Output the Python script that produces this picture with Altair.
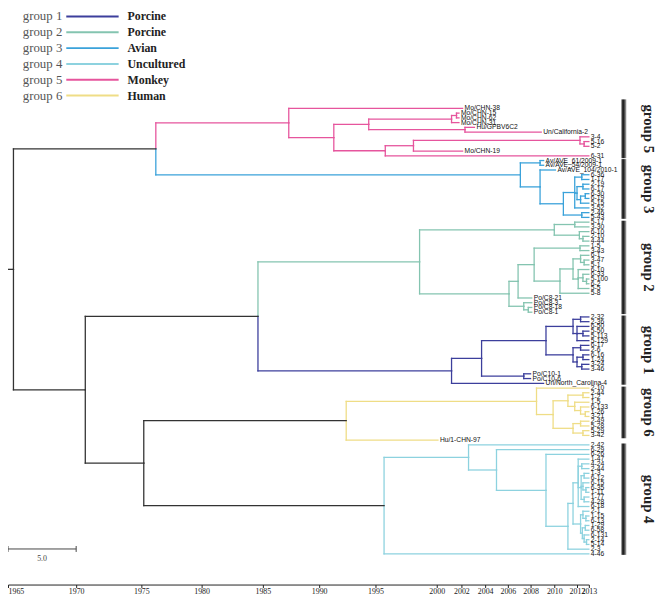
import altair as alt
import pandas as pd

# ---------------- data ----------------
axis_years = [1965, 1970, 1975, 1980, 1985, 1990, 1995, 2000, 2002, 2004, 2006, 2008, 2010, 2012, 2013]
axis_px = [0, 69, 135, 196, 258, 315, 372, 434, 459, 483, 506, 529, 553, 576, 588]  # non-uniform time axis of the figure

groups = ["group 1", "group 2", "group 3", "group 4", "group 5", "group 6"]
hosts = ["Porcine", "Porcine", "Avian", "Uncultured", "Monkey", "Human"]
group_colors = ["#3c3f9c", "#84c4b0", "#3aa2da", "#8dd2df", "#e6559d", "#efdd86"]
backbone_color = "#333333"

# bracket extents of the group bars (in leaf rows)
bar_start = [43.7, 23.7, 10.7, 70.7, -1.9, 58.7]
bar_end = [58.3, 43.4, 23.3, 94.2, 10.5, 69.6]

# subtrees: [node_year, [children]] or [leaf_name, tip_year]
g5 = [1987.3, [
    ["Mo/CHN-38", 2002.1],
    [1991.3, [
        [1994.4, [
            [2001.2, [
                [2001.6, [["Mo/CHN-15", 2001.8], ["Mo/CHN-62", 2001.8]]],
                ["Mo/CHN-31", 2001.8]]],
            [2002.3, [["Hu/GPBV6C2", 2003.1], ["Un/California-2", 2008.9]]]]],
        [1995.8, [
            [1998.1, [
                [2012.25, [["3-4", 2013], [2012.6, [["5-16", 2013], ["5-2", 2013]]]]],
                ["Mo/CHN-19", 2002.1]]],
            ["6-31", 2013]]]]]]]

g3 = [2007.1, [
    [2008.8, [["Av/AVE_61/2009-1", 2009.1], ["Av/AVE_54/2009-1", 2009.1]]],
    [2008.8, [
        ["Av/AVE_104/2010-1", 2010.1],
        [2010.8, [
            [2011.8, [
                [2012.4, [["6-36", 2013], ["1-17", 2013]]],
                [2012.0, [
                    [2012.5, [["2-19", 2013], ["6-17", 2013]]],
                    [2012.3, [[2012.7, [["6-30", 2013], ["6-19", 2013]]], ["5-15", 2013]]]]],
                ["3-52", 2013]]],
            [2012.4, [["2-46", 2013], ["5-43", 2013]]]]]]]]]

g2 = [1998.6, [
    [2010.0, [
        [2011.8, [["5-17", 2013], ["3-30", 2013]]],
        [2012.2, [["6-10", 2013], [2012.5, [["2-10", 2013], ["4-44", 2013]]]]]]],
    [2006.1, [
        [2006.9, [
            [2008.3, [
                [2012.25, [["1-5", 2013], ["3-43", 2013]]],
                [2010.5, [
                    [2011.65, [
                        [2012.3, [["6-1", 2013], [2012.6, [["3-47", 2013], ["5-1", 2013]]]]],
                        [2012.1, [["6-10", 2013],
                                  [2012.5, [["6-33", 2013], [2012.8, [["5-100", 2013], ["6-2", 2013]]]]],
                                  ["5-5", 2013]]]]],
                    ["5-8", 2013]]]]],
            ["Po/C8-21", 2008.1]]],
        [2007.4, [["Po/C8-3", 2008.1], [2007.8, [["Po/C8-18", 2008.1], ["Po/C8-1", 2008.1]]]]]]]]]

g1 = [2001.2, [
    [2003.7, [
        [2009.3, [
            [2011.65, [
                [2012.3, [["2-32", 2013], ["2-36", 2013]]],
                [2012.0, [["6-50", 2013], [2012.5, [["5-50", 2013], ["5-113", 2013]]], ["5-129", 2013]]]]],
            [2011.65, [
                [2012.3, [["6-17", 2013], ["2-6", 2013]]],
                [2012.0, [[2012.5, [["6-16", 2013], ["1-24", 2013]]],
                          [2012.4, [["3-24", 2013], ["3-46", 2013]]]]]]]]],
        [2007.4, [["Po/C10-1", 2008.0], ["Po/C10-6", 2008.0]]]]],
    ["Un/North_Carolina-4", 2009.1]]]

g6 = [2008.5, [
    ["2-10", 2013],
    [2009.9, [
        [2011.2, [
            [2012.5, [["2-44", 2013], ["1-2", 2013]]],
            [2011.8, [["1-5", 2013], [2012.3, [["6-133", 2013], [2012.7, [["1-26", 2013], ["3-21", 2013]]]]]]]]],
        [2011.65, [
            [2012.3, [["2-49", 2013], ["5-28", 2013]]],
            [2012.5, [["5-29", 2013], ["3-42", 2013]]]]]]]]]
g6_out = ["Hu/1-CHN-97", 2000.1]

g4 = [2002.6, [
    ["2-42", 2013],
    [2005.0, [
        ["6-29", 2013],
        [2009.3, [
            ["6-26", 2013],
            [2011.2, [
                [2011.65, [
                    [2012.1, [
                        ["1-47", 2013],
                        [2012.4, [["4-24", 2013], ["2-44", 2013]]],
                        [2012.35, [
                            [2012.6, [["1-3", 2013], ["6-12", 2013]]],
                            [2012.5, [["6-15", 2013], [2012.75, [["6-35", 2013], ["1-11", 2013]]]]],
                            [2012.6, [["1-77", 2013], ["4-28", 2013]]]]],
                        ["6-18", 2013]]],
                    [2012.3, [
                        [2012.5, [["2-1", 2013], [2012.75, [["1-15", 2013], ["6-13", 2013]]]]],
                        [2012.45, [
                            [2012.7, [["1-29", 2013], ["6-58", 2013]]],
                            [2012.6, [["6-131", 2013], [2012.8, [["2-14", 2013], ["5-14", 2013]]]]]]]]]]],
                ["2-3", 2013]]]]]]]]]
g4_out = ["4-46", 2013]


def tag(group, tree):
    return {"group": group, "tree": tree}


backbone = [1965.4, [
    [1976.2, [tag("group 5", g5), tag("group 3", g3)]],
    [1970.7, [
        [1984.6, [tag("group 2", g2), tag("group 1", g1)]],
        [1975.2, [
            [1992.4, [tag("group 6", g6), tag("group 6", g6_out)]],
            [1995.7, [tag("group 4", g4), tag("group 4", g4_out)]]]]]]]]
root_stub_start = 1965.0

# ---------------- layout (dendrogram) ----------------
segs, leaves = [], []
counter = [0]


def layout(node, group):
    if isinstance(node, dict):
        return layout(node["tree"], node["group"])
    if isinstance(node[0], str):
        i = counter[0]
        counter[0] += 1
        leaves.append({"name": node[0], "x": node[1], "y": i, "group": group})
        return node[1], i, group
    t, kids = node
    res = [layout(k, group) for k in kids]
    y = (res[0][1] + res[-1][1]) / 2.0
    for cx, cy, cg in res:
        segs.append({"x": t, "x2": t, "y": y, "y2": cy, "group": cg})
        segs.append({"x": t, "x2": cx, "y": cy, "y2": cy, "group": cg})
    return t, y, group


rx, ry, _ = layout(backbone, "backbone")
segs.append({"x": root_stub_start, "x2": rx, "y": ry, "y2": ry, "group": "backbone"})

seg_df = pd.DataFrame(segs)
leaf_df = pd.DataFrame(leaves)
bar_df = pd.DataFrame({"group": groups, "y0": bar_start, "y1": bar_end})
legend_df = pd.DataFrame({"row": list(range(6)), "group": groups, "host": hosts})
scalebar_df = pd.DataFrame({"x": [1965], "x2": [1970], "label": ["5.0"]})

# ---------------- encodings ----------------
xscale = alt.Scale(domain=axis_years, range=axis_px, nice=False, zero=False)
yscale = alt.Scale(domain=[0, 94], range=[98, 549], nice=False, zero=False)
cscale = alt.Scale(domain=["backbone"] + groups, range=[backbone_color] + group_colors)

xaxis = alt.Axis(values=axis_years, format="d", title=None, grid=False,
                 labelFont="Liberation Serif", labelFontSize=8, labelColor="#222",
                 tickColor="#222", domainColor="#222", tickSize=3, labelPadding=0,
                 labelFlush=False, labelOverlap=False,
                 labelAlign={"condition": {"test": "datum.value == 1965", "value": "left"}, "value": "center"})


def X(field):
    return alt.X(field, scale=xscale, axis=xaxis)


tree = alt.Chart(seg_df).mark_rule(strokeWidth=1.3, strokeCap="square").encode(
    x=X("x:Q"),
    x2="x2:Q",
    y=alt.Y("y:Q", scale=yscale, axis=None),
    y2="y2:Q",
    color=alt.Color("group:N", scale=cscale, legend=None),
)

leaf_text = alt.Chart(leaf_df).mark_text(
    align="left", baseline="middle", dx=2, fontSize=6.8, font="Liberation Sans", fill="#111"
).encode(
    x=X("x:Q"),
    y=alt.Y("y:Q", scale=yscale, axis=None),
    text="name:N",
)

grad = alt.LinearGradient(
    gradient="linear", x1=0, x2=1, y1=0, y2=0,
    stops=[alt.GradientStop(color="#444444", offset=0),
           alt.GradientStop(color="#1e1e1e", offset=0.45),
           alt.GradientStop(color="#b5b5b5", offset=1)],
)
bars = alt.Chart(bar_df).mark_rect(fill=grad).encode(
    x=alt.value(621), x2=alt.value(626),
    y=alt.Y("y0:Q", scale=yscale, axis=None), y2="y1:Q",
)
bar_labels = alt.Chart(bar_df).transform_calculate(ym="(datum.y0 + datum.y1) / 2").mark_text(
    angle=90, align="center", baseline="middle", font="Liberation Serif",
    fontWeight="bold", fontSize=15, fill="#222"
).encode(
    x=alt.value(649),
    y=alt.Y("ym:Q", scale=yscale, axis=None),
    text="group:N",
)

scale_line = alt.Chart(scalebar_df).mark_rule(color="#444", strokeWidth=1).encode(
    x=X("x:Q"), x2="x2:Q", y=alt.value(544)
)
scale_ticks_l = alt.Chart(scalebar_df).mark_rule(color="#444", strokeWidth=1).encode(
    x=X("x:Q"), y=alt.value(541), y2=alt.value(547)
)
scale_ticks_r = alt.Chart(scalebar_df).mark_rule(color="#444", strokeWidth=1).encode(
    x=X("x2:Q"), y=alt.value(541), y2=alt.value(547)
)
scale_text = alt.Chart(scalebar_df).transform_calculate(xm="(datum.x + datum.x2) / 2").mark_text(
    font="Liberation Serif", fontSize=8, fill="#444", baseline="middle"
).encode(
    x=X("xm:Q"), y=alt.value(554), text="label:N"
)

lscale = alt.Scale(domain=[0, 5], range=[5, 85], nice=False, zero=False)
leg_lines = alt.Chart(legend_df).mark_rule(strokeWidth=2).encode(
    x=alt.value(59), x2=alt.value(112),
    y=alt.Y("row:Q", scale=lscale, axis=None),
    color=alt.Color("group:N", scale=cscale, legend=None),
)
leg_groups = alt.Chart(legend_df).mark_text(
    align="right", baseline="middle", font="Liberation Serif", fontSize=13, fill="#555"
).encode(x=alt.value(55), y=alt.Y("row:Q", scale=lscale, axis=None), text="group:N")
leg_hosts = alt.Chart(legend_df).mark_text(
    align="left", baseline="middle", font="Liberation Serif", fontSize=12,
    fontWeight="bold", fill="#222"
).encode(x=alt.value(121), y=alt.Y("row:Q", scale=lscale, axis=None), text="host:N")

chart = alt.layer(
    tree, leaf_text, bars, bar_labels,
    scale_line, scale_ticks_l, scale_ticks_r, scale_text,
    leg_lines, leg_groups, leg_hosts,
).resolve_scale(y="independent").properties(
    width=659, height=580,
    autosize=alt.AutoSizeParams(type="none"),
    padding={"left": 0, "right": 0, "top": 0, "bottom": 10},
).configure_view(strokeWidth=0)

chart.save("out.html", embed_options={"renderer": "svg", "actions": False})
